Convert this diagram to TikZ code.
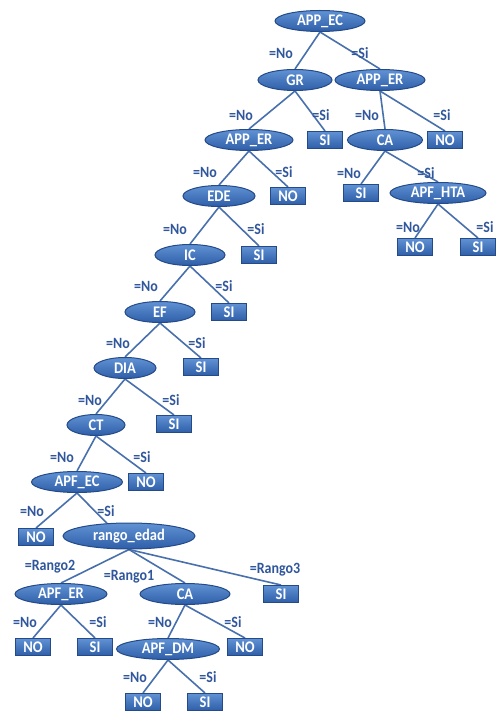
\documentclass[tikz,border=0pt]{standalone}
\usepackage{fontspec}
\setmainfont{Carlito}
\usetikzlibrary{shapes.geometric,backgrounds}
\definecolor{edgeC}{RGB}{72,112,172}
\definecolor{labC}{RGB}{48,86,155}
\definecolor{topC}{RGB}{96,146,212}
\definecolor{botC}{RGB}{46,94,168}
\definecolor{rimC}{RGB}{36,74,136}
\newcommand{\tallT}[1]{\scalebox{1}[1.12]{#1}}
\tikzset{
  enode/.style={ellipse, draw=rimC, line width=1pt, top color=topC, bottom color=botC,
    text=white, font=\fontsize{14.5}{16}\selectfont\bfseries, inner sep=0pt, minimum height=21pt},
  bnode/.style={rectangle, draw=rimC, line width=1pt, top color=topC, bottom color=botC,
    text=white, font=\fontsize{14.5}{16}\selectfont\bfseries, inner sep=0pt,
    minimum width=35pt, minimum height=17pt},
  lab/.style={text=labC, font=\fontsize{14}{16}\selectfont\bfseries, inner sep=0pt},
  conn/.style={draw=edgeC, line width=1.6pt}
}
\begin{document}
\begin{tikzpicture}[x=1pt,y=-1pt]
\useasboundingbox (0,0) rectangle (495,711);
% nodes
\node[enode, minimum width=90pt] (n1) at (320,21) {\tallT{APP\_EC}};
\node[enode, minimum width=74pt] (n2) at (295,80) {\tallT{GR}};
\node[enode, minimum width=90pt] (n3) at (380,80) {\tallT{APP\_ER}};
\node[enode, minimum width=88pt] (n4) at (249,140) {\tallT{APP\_ER}};
\node[bnode] (n5) at (325,140) {\tallT{SI}};
\node[enode, minimum width=75pt] (n6) at (385,140) {\tallT{CA}};
\node[bnode] (n7) at (445,140) {\tallT{NO}};
\node[enode, minimum width=72pt] (n8) at (219,196) {\tallT{EDE}};
\node[bnode] (n9) at (288,196) {\tallT{NO}};
\node[bnode] (n10) at (361,193) {\tallT{SI}};
\node[enode, minimum width=96pt] (n11) at (438,193) {\tallT{APF\_HTA}};
\node[enode, minimum width=70pt] (n12) at (190,255) {\tallT{IC}};
\node[bnode] (n13) at (259,255) {\tallT{SI}};
\node[bnode] (n14) at (415,247) {\tallT{NO}};
\node[bnode] (n15) at (478,247) {\tallT{SI}};
\node[enode, minimum width=70pt] (n16) at (160,312) {\tallT{EF}};
\node[bnode] (n17) at (229,312) {\tallT{SI}};
\node[enode, minimum width=62pt] (n18) at (125,368) {\tallT{DIA}};
\node[bnode] (n19) at (201,367) {\tallT{SI}};
\node[enode, minimum width=58pt] (n20) at (96,425) {\tallT{CT}};
\node[bnode] (n21) at (174,424) {\tallT{SI}};
\node[enode, minimum width=91pt] (n22) at (77,482) {\tallT{APF\_EC}};
\node[bnode] (n23) at (146,482) {\tallT{NO}};
\node[bnode] (n24) at (36,537) {\tallT{NO}};
\node[enode, minimum width=132pt, minimum height=26pt] (n25) at (129,536) {\tallT{rango\_edad}};
\node[enode, minimum width=92pt] (n26) at (61,594) {\tallT{APF\_ER}};
\node[enode, minimum width=90pt] (n27) at (185,594) {\tallT{CA}};
\node[bnode] (n28) at (281,594) {\tallT{SI}};
\node[bnode] (n29) at (33,647) {\tallT{NO}};
\node[bnode] (n30) at (95,647) {\tallT{SI}};
\node[enode, minimum width=103pt] (n31) at (168,649) {\tallT{APF\_DM}};
\node[bnode] (n32) at (245,647) {\tallT{NO}};
\node[bnode] (n33) at (143,702) {\tallT{NO}};
\node[bnode] (n34) at (205,702) {\tallT{SI}};
% edges
\begin{scope}[on background layer]
\draw[conn] (n1.south) -- (n2.north);
\draw[conn] (n1.south) -- (n3.north);
\draw[conn] (n2.south) -- (n4.north);
\draw[conn] (n2.south) -- (n5.north);
\draw[conn] (n3.south) -- (n6.north);
\draw[conn] (n3.south) -- (n7.north);
\draw[conn] (n4.south) -- (n8.north);
\draw[conn] (n4.south) -- (n9.north);
\draw[conn] (n6.south) -- (n10.north);
\draw[conn] (n6.south) -- (n11.north);
\draw[conn] (n8.south) -- (n12.north);
\draw[conn] (n8.south) -- (n13.north);
\draw[conn] (n11.south) -- (n14.north);
\draw[conn] (n11.south) -- (n15.north);
\draw[conn] (n12.south) -- (n16.north);
\draw[conn] (n12.south) -- (n17.north);
\draw[conn] (n16.south) -- (n18.north);
\draw[conn] (n16.south) -- (n19.north);
\draw[conn] (n18.south) -- (n20.north);
\draw[conn] (n18.south) -- (n21.north);
\draw[conn] (n20.south) -- (n22.north);
\draw[conn] (n20.south) -- (n23.north);
\draw[conn] (n22.south) -- (n24.north);
\draw[conn] (n22.south) -- (n25.150);
\draw[conn] (n25.south) -- (n26.north);
\draw[conn] (n25.south) -- (n27.north);
\draw[conn] (n25.south) -- (n28.north);
\draw[conn] (n26.south) -- (n29.north);
\draw[conn] (n26.south) -- (n30.north);
\draw[conn] (n27.south) -- (n31.north);
\draw[conn] (n27.south) -- (n32.north);
\draw[conn] (n31.south) -- (n33.north);
\draw[conn] (n31.south) -- (n34.north);
\end{scope}
% labels
\node[lab] (a1) at (281,53) {\tallT{=No}};
\node[lab] (a2) at (360,53) {\tallT{=Si}};
\node[lab] (a3) at (241,115) {\tallT{=No}};
\node[lab] (a4) at (321,115) {\tallT{=Si}};
\node[lab] (a5) at (367,115) {\tallT{=No}};
\node[lab] (a6) at (442,115) {\tallT{=Si}};
\node[lab] (a7) at (205,172) {\tallT{=No}};
\node[lab] (a8) at (284,172) {\tallT{=Si}};
\node[lab] (a9) at (349,173) {\tallT{=No}};
\node[lab] (a10) at (426,173) {\tallT{=Si}};
\node[lab] (a11) at (175,229) {\tallT{=No}};
\node[lab] (a12) at (256,229) {\tallT{=Si}};
\node[lab] (a13) at (408,227) {\tallT{=No}};
\node[lab] (a14) at (485,227) {\tallT{=Si}};
\node[lab] (a15) at (146,286) {\tallT{=No}};
\node[lab] (a16) at (224,286) {\tallT{=Si}};
\node[lab] (a17) at (118,343) {\tallT{=No}};
\node[lab] (a18) at (197,343) {\tallT{=Si}};
\node[lab] (a19) at (90,400) {\tallT{=No}};
\node[lab] (a20) at (171,400) {\tallT{=Si}};
\node[lab] (a21) at (62,457) {\tallT{=No}};
\node[lab] (a22) at (142,457) {\tallT{=Si}};
\node[lab] (a23) at (32,511) {\tallT{=No}};
\node[lab] (a24) at (106,511) {\tallT{=Si}};
\node[lab] (a25) at (50,567) {\tallT{=Rango2}};
\node[lab] (a26) at (129,577) {\tallT{=Rango1}};
\node[lab] (a27) at (275,570) {\tallT{=Rango3}};
\node[lab] (a28) at (25,622) {\tallT{=No}};
\node[lab] (a29) at (98,622) {\tallT{=Si}};
\node[lab] (a30) at (160,622) {\tallT{=No}};
\node[lab] (a31) at (233,622) {\tallT{=Si}};
\node[lab] (a32) at (135,677) {\tallT{=No}};
\node[lab] (a33) at (208,677) {\tallT{=Si}};
\end{tikzpicture}
\end{document}
